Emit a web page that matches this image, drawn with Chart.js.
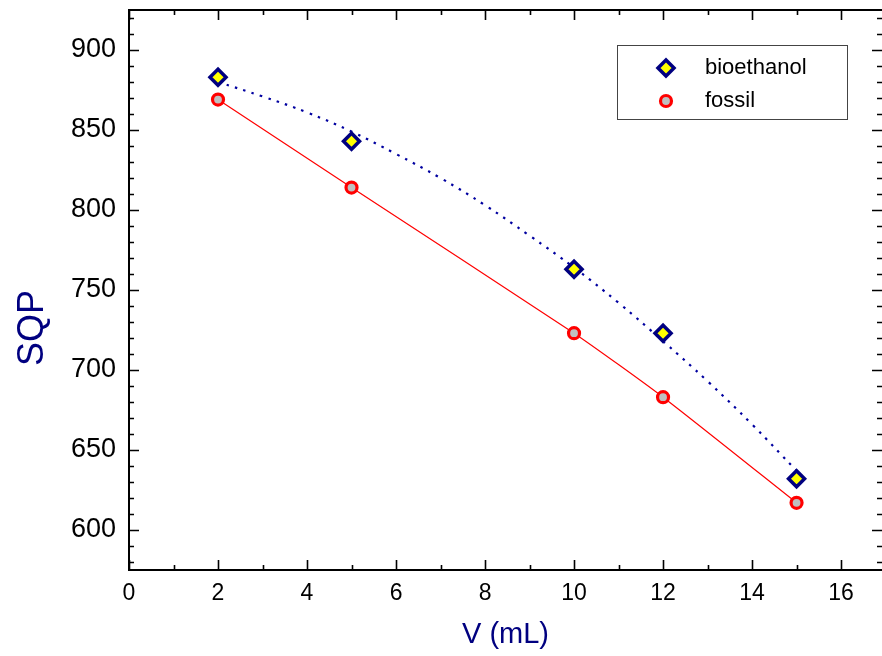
<!DOCTYPE html>
<html lang="en">
<head>
    <meta charset="UTF-8">
    <title>SQP vs V</title>
    <script src="https://cdn.jsdelivr.net/npm/chart.js@4.4.1/dist/chart.umd.min.js"></script>
    <style>
        html, body { margin: 0; padding: 0; background: #fff; }
        #chart { display: block; }
    </style>
</head>
<body>
    <canvas id="chart" width="882" height="656"></canvas>
    <script>
        // measured volumes and SQP values
        const volumes = [2, 5, 10, 12, 15];
        const bioethanol = [883, 843, 763, 723, 632];
        const fossil = [869, 814, 723, 683, 617];

        // fitted curve for the bioethanol blend
        const fitVolumes = [2, 3, 4, 5, 6, 7, 8, 9, 10, 11, 12, 13, 14, 15];
        const fitBioethanol = [880, 871, 861, 849, 835, 820, 803, 784, 764, 742, 718, 693, 666, 637];

        const xTicks = [0, 2, 4, 6, 8, 10, 12, 14, 16];
        const yTicks = [600, 650, 700, 750, 800, 850, 900];

        const navy = "#000080";
        const font = "'Liberation Sans', Arial, sans-serif";

        const toPoints = (xs, ys) => xs.map((x, i) => ({ x: x, y: ys[i] }));

        // frame with inward major/minor ticks on all four sides, plus the y title
        const framePlugin = {
            id: "frame",
            afterDatasetsDraw(chart) {
                const { ctx, chartArea: a, scales } = chart;
                const xs = scales.x, ys = scales.y;
                ctx.save();
                ctx.strokeStyle = "#000";
                ctx.lineWidth = 2;
                // right edge sits just past the canvas
                ctx.strokeRect(a.left, a.top, a.right + 2 - a.left, a.bottom - a.top);
                ctx.lineWidth = 1.6;
                ctx.beginPath();
                for (let v = 0; v <= 17; v++) {
                    const len = v % 2 === 0 ? 10 : 5;
                    const px = Math.round(xs.getPixelForValue(v)) + 0.5;
                    if (px > a.right - 1) continue;
                    ctx.moveTo(px, a.bottom); ctx.lineTo(px, a.bottom - len);
                    ctx.moveTo(px, a.top); ctx.lineTo(px, a.top + len);
                }
                for (let v = 580; v <= 920; v += 10) {
                    const len = v % 50 === 0 ? 10 : 5;
                    const py = Math.round(ys.getPixelForValue(v)) + 0.5;
                    ctx.moveTo(a.left, py); ctx.lineTo(a.left + len, py);
                    ctx.moveTo(a.right, py); ctx.lineTo(a.right - len, py);
                }
                ctx.stroke();

                ctx.translate(33, 328);
                ctx.rotate(-Math.PI / 2);
                ctx.fillStyle = navy;
                ctx.font = "36px " + font;
                ctx.textAlign = "center";
                ctx.textBaseline = "middle";
                ctx.fillText("SQP", 0, 0);
                ctx.restore();
            }
        };

        // legend box in the upper right corner of the plot
        const legendPlugin = {
            id: "boxLegend",
            afterDraw(chart) {
                const { ctx } = chart;
                const entries = [chart.data.datasets[0], chart.data.datasets[1]];
                const bx = 617, by = 45, bw = 230, bh = 74;
                ctx.save();
                ctx.fillStyle = "#fff";
                ctx.fillRect(bx, by, bw, bh);
                ctx.strokeStyle = "#444";
                ctx.lineWidth = 1;
                ctx.strokeRect(bx + 0.5, by + 0.5, bw, bh);
                entries.forEach((ds, i) => {
                    const cy = by + 23 + i * 33;
                    ctx.fillStyle = ds.pointBackgroundColor;
                    ctx.strokeStyle = ds.pointBorderColor;
                    ctx.lineWidth = ds.pointBorderWidth;
                    ctx.beginPath();
                    if (ds.pointStyle === "rectRot") {
                        const r = ds.pointRadius;
                        ctx.moveTo(666, cy - r); ctx.lineTo(666 + r, cy);
                        ctx.lineTo(666, cy + r); ctx.lineTo(666 - r, cy);
                        ctx.closePath();
                    } else {
                        ctx.arc(666, cy, ds.pointRadius, 0, Math.PI * 2);
                    }
                    ctx.fill();
                    ctx.stroke();
                    ctx.fillStyle = "#000";
                    ctx.font = "22px " + font;
                    ctx.textBaseline = "middle";
                    ctx.fillText(ds.label, 705, cy);
                });
                ctx.restore();
            }
        };

        const ctx = document.getElementById("chart").getContext("2d");

        new Chart(ctx, {
            type: "scatter",
            data: {
                datasets: [
                    {
                        label: "bioethanol",
                        data: toPoints(volumes, bioethanol),
                        showLine: false,
                        pointStyle: "rectRot",
                        pointRadius: 8,
                        pointBorderWidth: 3.5,
                        pointBorderColor: navy,
                        pointBackgroundColor: "#ffff00",
                        order: 1
                    },
                    {
                        label: "fossil",
                        data: toPoints(volumes, fossil),
                        showLine: true,
                        borderColor: "#ff0000",
                        borderWidth: 1.2,
                        tension: 0.2,
                        pointStyle: "circle",
                        pointRadius: 5.5,
                        pointBorderWidth: 3.2,
                        pointBorderColor: "#ff0000",
                        pointBackgroundColor: "#c0c0c0",
                        order: 2
                    },
                    {
                        label: "bioethanol fit",
                        data: toPoints(fitVolumes, fitBioethanol),
                        showLine: true,
                        borderColor: "#0000a0",
                        borderWidth: 2.2,
                        borderDash: [2.5, 6.3],
                        tension: 0.4,
                        pointRadius: 0,
                        order: 3
                    }
                ]
            },
            options: {
                responsive: false,
                animation: false,
                layout: { autoPadding: false, padding: { top: 10, right: 0, left: 0, bottom: 0 } },
                plugins: {
                    legend: { display: false },
                    tooltip: { enabled: false }
                },
                scales: {
                    x: {
                        type: "linear",
                        min: 0,
                        max: 16.92,
                        afterBuildTicks: s => { s.ticks = xTicks.map(v => ({ value: v })); },
                        afterFit: s => { s.height = 86; s.paddingLeft = 0; s.paddingRight = 0; },
                        grid: { display: false, drawTicks: false },
                        border: { display: false },
                        ticks: {
                            color: "#000",
                            padding: 10,
                            font: { family: font, size: 23 }
                        },
                        title: {
                            display: true,
                            text: "V (mL)",
                            color: navy,
                            padding: { top: 6 },
                            font: { family: font, size: 29 }
                        }
                    },
                    y: {
                        min: 575,
                        max: 925,
                        afterBuildTicks: s => { s.ticks = yTicks.map(v => ({ value: v })); },
                        afterFit: s => { s.width = 129; s.paddingTop = 0; s.paddingBottom = 0; },
                        grid: { display: false, drawTicks: false },
                        border: { display: false },
                        ticks: {
                            color: "#000",
                            padding: 13,
                            font: { family: font, size: 27 }
                        }
                    }
                }
            },
            plugins: [framePlugin, legendPlugin]
        });
    </script>
</body>
</html>
